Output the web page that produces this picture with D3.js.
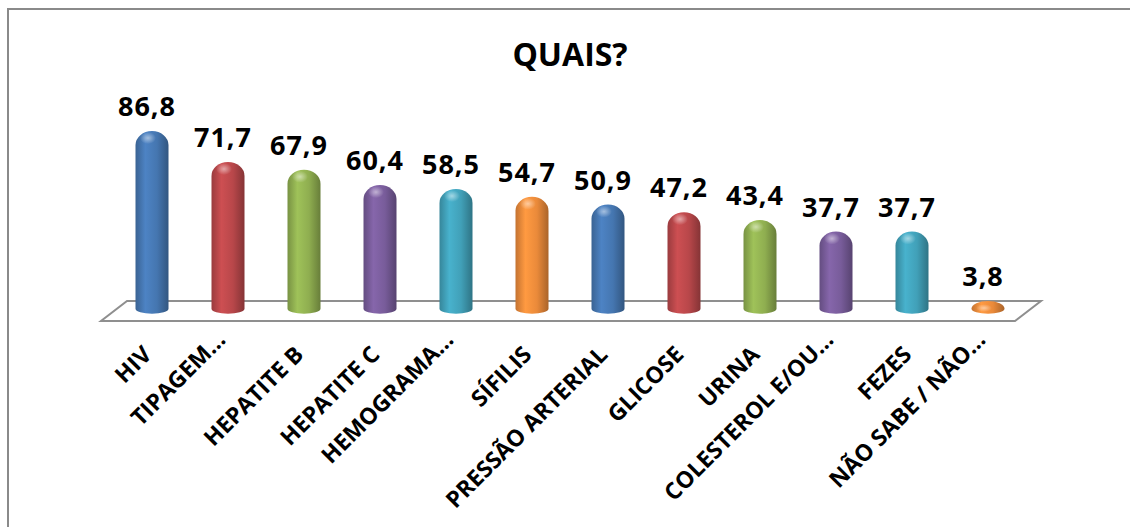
<!DOCTYPE html>
<html>
<head>
<meta charset="utf-8">
<script src="https://cdn.jsdelivr.net/npm/d3@7"></script>
<style>
  body { margin: 0; background: #fff; }
  svg { display: block; font-family: "Open Sans", sans-serif; }
</style>
</head>
<body>
<svg id="chart" width="1130" height="527"></svg>
<script>
var categories = ["HIV", "TIPAGEM…", "HEPATITE B", "HEPATITE C", "HEMOGRAMA…", "SÍFILIS",
  "PRESSÃO ARTERIAL", "GLICOSE", "URINA", "COLESTEROL E/OU…", "FEZES", "NÃO SABE / NÃO…"];
var values = [86.8, 71.7, 67.9, 60.4, 58.5, 54.7, 50.9, 47.2, 43.4, 37.7, 37.7, 3.8];
var labels = ["86,8", "71,7", "67,9", "60,4", "58,5", "54,7", "50,9", "47,2", "43,4", "37,7", "37,7", "3,8"];
var palette = ["#4576b0", "#b8474a", "#8fae50", "#785c9a", "#41a0b8", "#ea8a3a"];

var svg = d3.select("#chart");

// frame (right and bottom edges fall outside the picture)
svg.append("rect")
  .attr("x", 8).attr("y", 9)
  .attr("width", 1200).attr("height", 600)
  .attr("fill", "none").attr("stroke", "#8a8a8a").attr("stroke-width", 2);

svg.append("text")
  .attr("x", 570).attr("y", 66)
  .attr("text-anchor", "middle")
  .style("font-size", "32px").style("font-weight", "bold")
  .text("QUAIS?");

var x = d3.scalePoint()
  .domain(categories)
  .range([114, 1026])
  .padding(0.5);

var y = d3.scaleLinear()
  .domain([0, 100])
  .range([308.8, 104]);

var r = 16.5;

// floor
svg.append("path")
  .attr("d", "M127,301 L1041,301 L1015,321 L101,321 Z")
  .attr("fill", "#fff").attr("stroke", "#8f8f8f").attr("stroke-width", 2);

var defs = svg.append("defs");
categories.forEach(function(c, i) {
  var col = d3.color(palette[i % palette.length]);
  var g = defs.append("linearGradient").attr("id", "g" + i)
    .attr("x1", "0").attr("x2", "1").attr("y1", "0").attr("y2", "0");
  g.append("stop").attr("offset", "0%").attr("stop-color", col.darker(0.5));
  g.append("stop").attr("offset", "30%").attr("stop-color", col.brighter(0.3));
  g.append("stop").attr("offset", "65%").attr("stop-color", col);
  g.append("stop").attr("offset", "100%").attr("stop-color", col.darker(0.9));
});
var hl = defs.append("radialGradient").attr("id", "hl");
hl.append("stop").attr("offset", "0%").attr("stop-color", "#fff").attr("stop-opacity", 0.5);
hl.append("stop").attr("offset", "100%").attr("stop-color", "#fff").attr("stop-opacity", 0);

function barPath(d, i) {
  var cx = x(categories[i]);
  var base = y(0);
  var top = y(d);
  var ry = Math.min(14, base - top);
  return "M" + (cx - r) + "," + base +
    " L" + (cx - r) + "," + (top + ry) +
    " A" + r + "," + ry + " 0 0 1 " + (cx + r) + "," + (top + ry) +
    " L" + (cx + r) + "," + base +
    " A" + r + ",5 0 0 1 " + (cx - r) + "," + base + " Z";
}

svg.selectAll(".bar")
  .data(values)
  .enter().append("path")
  .attr("class", "bar")
  .attr("d", barPath)
  .attr("fill", function(d, i) { return "url(#g" + i + ")"; });

svg.selectAll(".shine")
  .data(values)
  .enter().append("ellipse")
  .attr("class", "shine")
  .attr("cx", function(d, i) { return x(categories[i]) - 4; })
  .attr("cy", function(d) { return y(d) + 7; })
  .attr("rx", 8)
  .attr("ry", function(d) { return Math.min(6, (y(0) - y(d)) / 2); })
  .attr("fill", "url(#hl)");

// value labels sit a little left of the bar centre, as in the original
svg.selectAll(".val")
  .data(values)
  .enter().append("text")
  .attr("class", "val")
  .attr("x", function(d, i) { return x(categories[i]) - 5; })
  .attr("y", function(d) { return y(d) - 15; })
  .attr("text-anchor", "middle")
  .style("font-size", "27px").style("font-weight", "bold")
  .style("letter-spacing", "1px")
  .text(function(d, i) { return labels[i]; });

svg.selectAll(".cat")
  .data(categories)
  .enter().append("text")
  .attr("class", "cat")
  .attr("transform", function(d) {
    var cut = d.slice(-1) === "…";
    var ax = x(d) + (cut ? -1 : 1);
    var ay = cut ? 341 : 356;
    return "translate(" + ax + "," + ay + ") rotate(-45)";
  })
  .attr("text-anchor", "end")
  .style("font-size", "23px").style("font-weight", "bold")
  .text(function(d) { return d; });
</script>
</body>
</html>
